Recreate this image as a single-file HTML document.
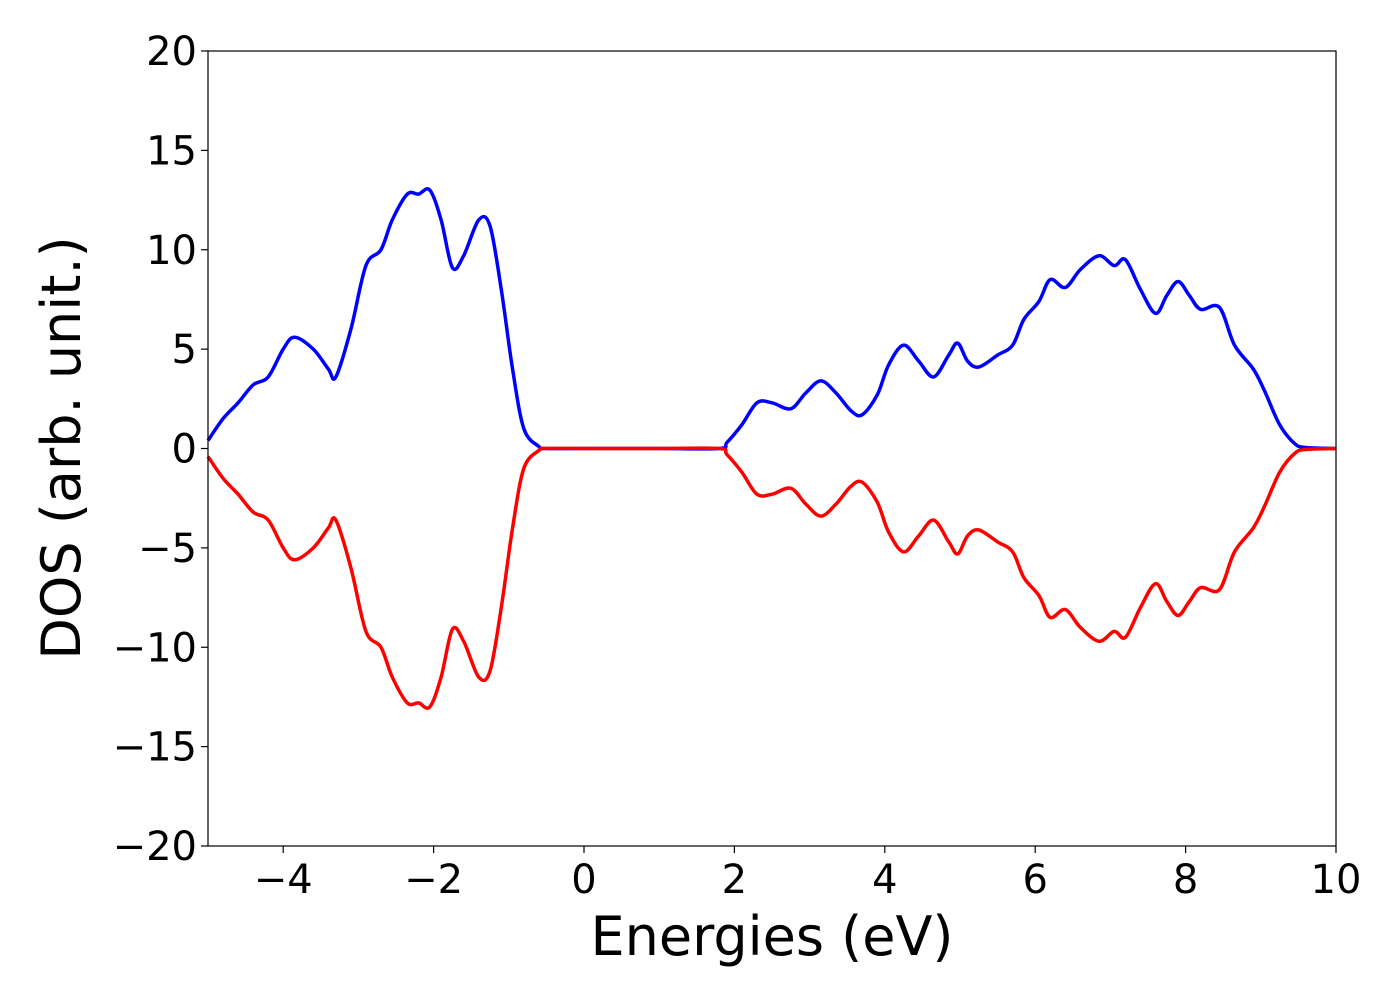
<!DOCTYPE html>
<html><head><meta charset="utf-8"><style>
body{margin:0;background:#fff}
svg{display:block;font-family:"DejaVu Sans","Liberation Sans",sans-serif}
</style></head><body>
<svg id="chart" width="1400" height="1000" viewBox="0 0 1400 1000">
<g id="axes"></g>
<g id="series"></g>
<rect x="208" y="51" width="1128" height="795" fill="none" stroke="#000" stroke-width="1.2"/>
<text x="772" y="955" font-size="54" text-anchor="middle">Energies (eV)</text>
<text transform="translate(80,448) rotate(-90)" font-size="54" text-anchor="middle">DOS (arb. unit.)</text>
</svg>
<script>
const energies=[-5,-4.8,-4.6,-4.4,-4.2,-4.0,-3.85,-3.6,-3.4,-3.3,-3.1,-2.9,-2.7,-2.55,-2.35,-2.2,-2.05,-1.9,-1.75,-1.6,-1.4,-1.25,-1.1,-0.95,-0.8,-0.6,-0.5,0,1,1.8,1.9,2.1,2.3,2.5,2.75,2.95,3.15,3.35,3.55,3.7,3.9,4.05,4.25,4.45,4.65,4.85,4.97,5.1,5.25,5.5,5.7,5.85,6.05,6.2,6.4,6.6,6.85,7.05,7.2,7.4,7.6,7.75,7.9,8.05,8.2,8.45,8.65,8.9,9.05,9.25,9.45,9.6,10];
const dosUp=[0.4,1.5,2.3,3.2,3.6,5.0,5.6,5.0,4.0,3.6,6,9.2,10,11.5,12.8,12.8,13.0,11.5,9.1,9.7,11.5,11.2,8,4,1,0.1,0,0,0,0,0.3,1.2,2.3,2.3,2.0,2.8,3.4,2.8,1.9,1.7,2.7,4.2,5.2,4.4,3.6,4.7,5.3,4.4,4.1,4.7,5.2,6.5,7.4,8.5,8.1,9.0,9.7,9.2,9.5,8,6.8,7.7,8.4,7.7,7,7.1,5.2,4,2.9,1.2,0.25,0.05,0];
const dosDown=dosUp.map(v=>-v);
const xTicks=[-4,-2,0,2,4,6,8,10];
const yTicks=[-20,-15,-10,-5,0,5,10,15,20];
const X0=208,X1=1336,Y0=846,Y1=51;
const sx=v=>X0+(v+5)/15*(X1-X0);
const sy=v=>Y0-(v+20)/40*(Y0-Y1);
const NS="http://www.w3.org/2000/svg";
const axes=document.getElementById('axes');
function mk(t,a,p){const e=document.createElementNS(NS,t);for(const k in a)e.setAttribute(k,a[k]);p.appendChild(e);return e;}
xTicks.forEach(t=>{
 const l=mk('line',{x1:sx(t),x2:sx(t),y1:Y0,y2:Y0+7,stroke:'#000','stroke-width':1.2},axes);
 
 
 const tx=mk('text',{x:sx(t),y:893,'font-size':40,'text-anchor':'middle'},axes);
 
 
 tx.textContent=(t<0?'\u2212':'')+Math.abs(t);
});
yTicks.forEach(t=>{
 const l=mk('line',{x1:X0-7,x2:X0,y1:sy(t),y2:sy(t),stroke:'#000','stroke-width':1.2},axes);
 
 
 const tx=mk('text',{x:197,y:sy(t)+14,'font-size':40,'text-anchor':'end'},axes);
 
 
 tx.textContent=(t<0?'\u2212':'')+Math.abs(t);
});
function path(vals){
 const p=energies.map((e,i)=>[sx(e),sy(vals[i])]);
 let d='M'+p[0][0]+','+p[0][1];
 for(let i=0;i<p.length-1;i++){
  const a=p[Math.max(0,i-1)],b=p[i],c=p[i+1],n=p[Math.min(p.length-1,i+2)];
  const t=1/6;
  d+=' C'+(b[0]+(c[0]-a[0])*t)+','+(b[1]+(c[1]-a[1])*t)+' '+(c[0]-(n[0]-b[0])*t)+','+(c[1]-(n[1]-b[1])*t)+' '+c[0]+','+c[1];
 }
 return d;
}
const series=document.getElementById('series');
const up=mk('path',{d:path(dosUp),fill:'none',stroke:'#0000ff','stroke-width':3.5},series);


const dn=mk('path',{d:path(dosDown),fill:'none',stroke:'#ff0000','stroke-width':3.5},series);


</script>
</body></html>
